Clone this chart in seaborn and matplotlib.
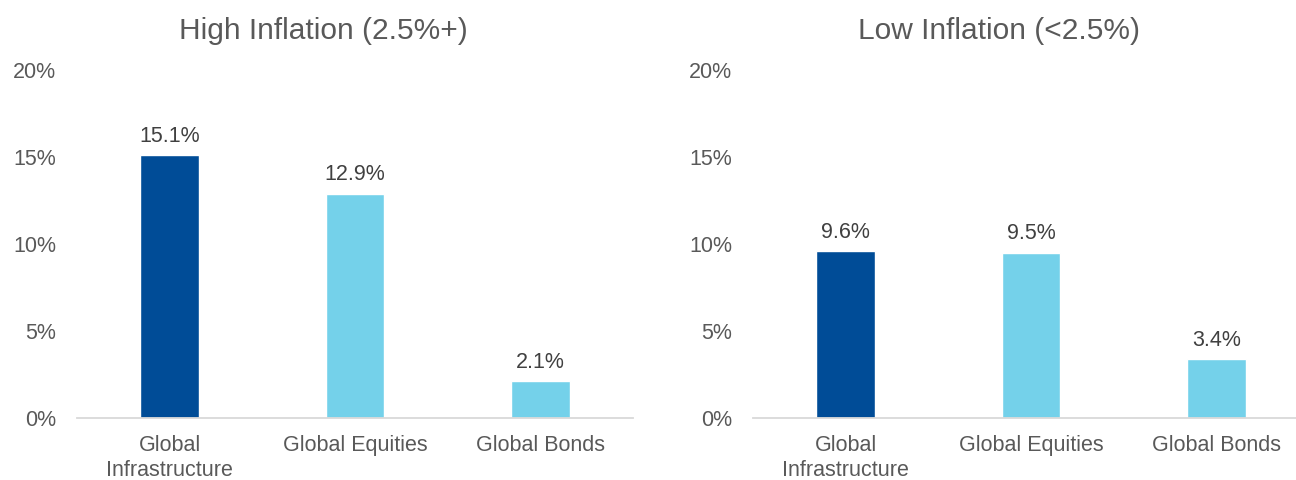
import matplotlib
matplotlib.use("Agg")
import matplotlib.pyplot as plt
import seaborn as sns

# data
categories = ["Global\nInfrastructure", "Global Equities", "Global Bonds"]
high_inflation = [15.1, 12.9, 2.1]
low_inflation = [9.6, 9.5, 3.4]
panel_titles = ["High Inflation (2.5%+)", "Low Inflation (<2.5%)"]
y_ticks = [0, 5, 10, 15, 20]

colors = {"Global\nInfrastructure": "#004C97",
          "Global Equities": "#74D1EA",
          "Global Bonds": "#74D1EA"}

sns.set_theme(style="white")
plt.rcParams["font.family"] = ["Liberation Sans", "DejaVu Sans"]

fig = plt.figure(figsize=(12.96, 4.8), dpi=100)
ax1 = fig.add_axes([77 / 1296, 62 / 480, 556 / 1296, 348 / 480])
ax2 = fig.add_axes([753 / 1296, 62 / 480, 556 / 1296, 348 / 480])

for ax, vals, title, tx in zip([ax1, ax2], [high_inflation, low_inflation],
                               panel_titles, [323, 999]):
    sns.barplot(x=categories, y=vals, hue=categories, palette=colors,
                width=0.315, legend=False, saturation=1, ax=ax)
    for cont in ax.containers:
        ax.bar_label(cont, fmt="%.1f%%", padding=6, fontsize=15.5, color="#404040")
    ax.set_ylim(0, 20)
    ax.set_xlim(-0.5, 2.5)
    ax.set_yticks(y_ticks)
    ax.set_yticklabels([f"{t}%" for t in y_ticks])
    ax.tick_params(axis="y", length=0, pad=15, labelsize=15.5, labelcolor="#595959")
    ax.tick_params(axis="x", length=0, pad=12, labelsize=15.5, labelcolor="#595959")
    for lbl in ax.get_xticklabels():
        lbl.set_linespacing(1.25)
    for s in ["top", "right", "left"]:
        ax.spines[s].set_visible(False)
    ax.spines["bottom"].set_color("#D9D9D9")
    ax.spines["bottom"].set_linewidth(1.3)
    ax.set_xlabel("")
    ax.set_ylabel("")
    fig.text(tx / 1296, 1 - 31 / 480, title, ha="center", va="center",
             fontsize=21.5, color="#595959")

fig.savefig("out.png", dpi=100)
